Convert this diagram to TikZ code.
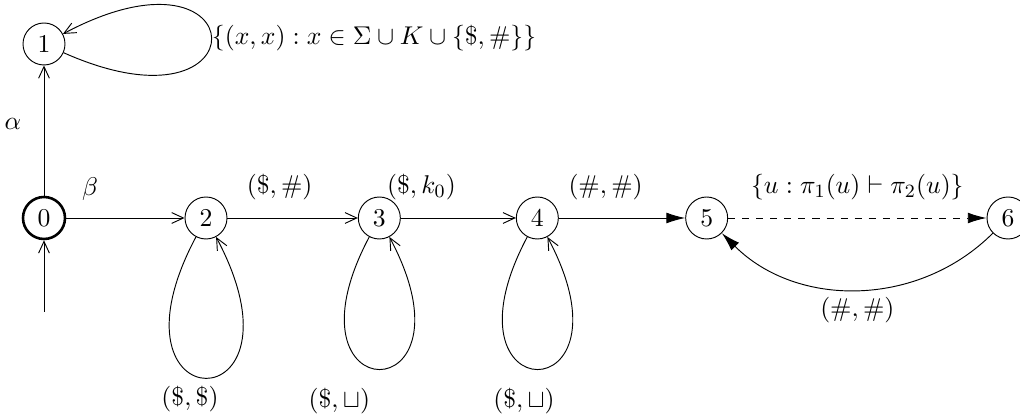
\documentclass[tikz,border=0pt]{standalone}
\usepackage{tikz}
\usetikzlibrary{arrows,arrows.meta,positioning,calc}
\tikzset{main base/.style={draw,text centered, }, }
\tikzset{main node/.style={circle, draw,main base,minimum size=0.63cm,inner sep=0pt}, }
\tikzset{init node/.style={main node,line width=1.1pt}, }
\tikzset{linea/.style={-{Straight Barb[length=5pt,width=4.6pt]},draw}}
\tikzset{linea2/.style={-{Latex[length=8pt,width=4.6pt]},draw}}
\tikzset{cappio/.style={linea,out=-118,in=-62,distance=#1}}
\tikzset{cappio/.default=3.2cm}
\tikzset{etich/.style={above=4pt}}

\begin{document}
\begin{tikzpicture}[on grid,font=\fontsize{10.95}{13}\selectfont]
  \useasboundingbox (-0.66,-3.0) rectangle (14.64,3.27);
    \node[init node] (0) {$0$};
    \node[main node] (1) [above=2.61cm of 0] {$1$};
    \node[main node] (2) [right=2.43cm of 0] {$2$};
    \node[main node] (3) [right=2.6cm of 2]  {$3$};
    \node[main node] (4) [right=2.37cm of 3] {$4$};
    \node[main node] (5) [right=2.54cm of 4] {$5$};
    \node[main node] (6) [right=4.52cm of 5] {$6$};
    \coordinate[below=1.41cm of 0] (start0);
%
    \draw[linea] (start0) -- (0);
    \path (0) edge[linea] node[left=0.22cm,pos=0.55] {$\alpha$} (1);
\foreach \x/\y/\p/\t in {0/2/0.2/{$\beta$},2/3/0.4/{$(\$,\#)$},3/4/0.18/{$(\$,k_0)$}}
  \path (\x) edge[linea] node[etich,pos=\p] {\t} (\y);
    \path (4) edge[linea2] node[etich,pos=0.37] {$(\#,\#)$} (5);
    \path (5) edge[linea2,dashed] node[etich] {$\{u : \pi_1(u) \vdash \pi_2(u)\}$} (6);
    \path (6) edge[linea2,bend left=45] node[below=0pt] {$(\#,\#)$} (5);
% cappi
    \path (1) edge[linea,out=-24,in=28,distance=3.3cm] node[right,inner sep=0pt] {$\{(x,x) : x \in \Sigma \cup K \cup \{\$,\#\}\}$} (1);
    \path (2) edge[cappio] node[below=0pt,xshift=-0.24cm] {$(\$,\$)$} (2);
    \path (3) edge[cappio=3.0cm] node[below=0.16cm,xshift=-0.6cm] {$(\$,\sqcup)$} (3);
    \path (4) edge[cappio=3.0cm] node[below=0.16cm,xshift=-0.2cm] {$(\$,\sqcup)$} (4);
%  
\end{tikzpicture}
\end{document}
